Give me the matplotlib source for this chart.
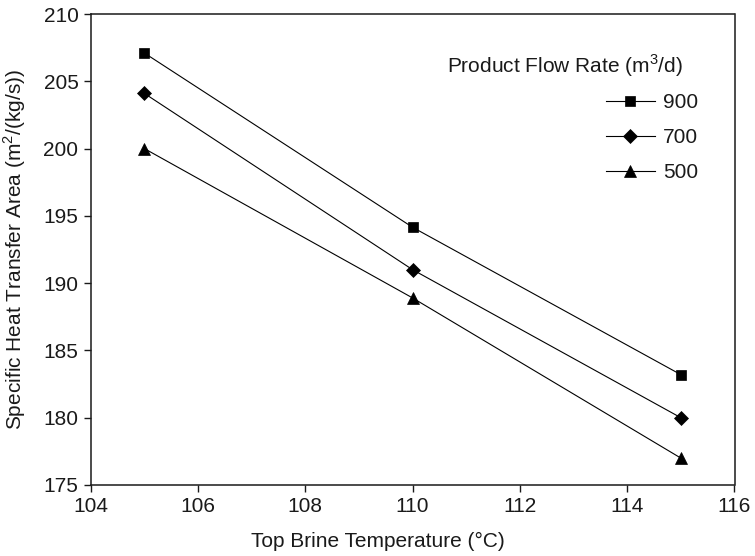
import matplotlib
matplotlib.use("Agg")
import matplotlib.pyplot as plt

plt.rcParams['font.family'] = ['Liberation Sans', 'DejaVu Sans']
plt.rcParams['mathtext.fontset'] = 'custom'
plt.rcParams['mathtext.rm'] = 'Liberation Sans'

temperature = [105, 110, 115]
area_900 = [207.1, 194.15, 183.2]
area_700 = [204.1, 191.0, 180.0]
area_500 = [200.0, 188.9, 177.0]
flow_labels = ['900', '700', '500']
markers = ['s', 'D', '^']
marker_sizes = [7.6, 6.8, 9.0]

W, H = 755, 556
fig = plt.figure(figsize=(W / 100, H / 100), dpi=100)
ax = fig.add_axes([90.7 / W, 1 - 485 / H, (734.5 - 90.7) / W, (485 - 14) / H])

for series, lab, mk, ms in zip([area_900, area_700, area_500], flow_labels, markers, marker_sizes):
    ax.plot(temperature, series, color='black', linewidth=0.8, marker=mk,
            markersize=ms, markerfacecolor='black', markeredgecolor='black',
            markeredgewidth=0.5, label=lab)

ax.set_xlim(104, 116)
ax.set_ylim(175, 210)
ax.set_xticks(range(104, 117, 2))
ax.set_yticks(range(175, 211, 5))
ax.tick_params(direction='out', length=4.8, width=1.0, labelsize=15,
               colors='#1a1a1a', pad=4)
for side in ax.spines.values():
    side.set_linewidth(1.1)
    side.set_color('#1a1a1a')

ax.set_xlabel('Top Brine Temperature (°C)', fontsize=15, color='#1a1a1a')
ax.xaxis.set_label_coords(0.5, (H - 541) / H, transform=fig.transFigure)
ax.xaxis.label.set_verticalalignment('center')
ax.set_ylabel('Specific Heat Transfer Area (m$^2$/(kg/s))', fontsize=15,
              color='#1a1a1a')
ax.yaxis.set_label_coords(15 / W, 1 - 249 / H, transform=fig.transFigure)
ax.yaxis.label.set_verticalalignment('center')

fig.text(683 / W, 1 - 66 / H, 'Product Flow Rate (m$^3$/d)', fontsize=15,
         ha='right', va='center', color='#1a1a1a')

leg = ax.legend(loc='upper left', bbox_to_anchor=(605.7 / W, 1 - 93 / H),
                bbox_transform=fig.transFigure, frameon=False, fontsize=15,
                handlelength=2.35, handletextpad=0.4, labelspacing=0.78,
                borderpad=0, borderaxespad=0)
for t in leg.get_texts():
    t.set_color('#1a1a1a')

fig.savefig('out.png', dpi=100)
